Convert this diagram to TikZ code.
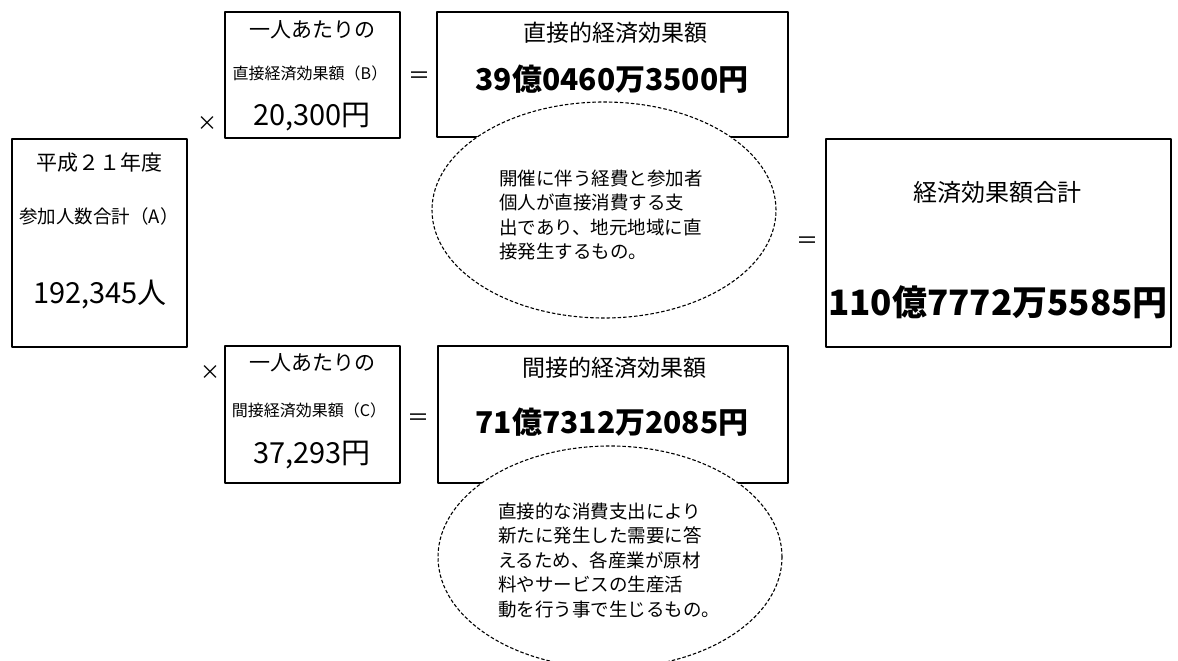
\documentclass[tikz,border=0pt]{standalone}
\usepackage{fontspec}
\setmainfont{Noto Sans CJK JP}
\usetikzlibrary{shapes.geometric}
\begin{document}
\begin{tikzpicture}[x=1pt, y=-1pt, line join=round,
	box/.style={draw, line width=2pt, inner sep=0pt},
	bubble/.style={draw, fill=white, ellipse, dash pattern=on 3.5pt off 2pt, line width=1.1pt, inner sep=0pt, minimum width=344, minimum height=216},
	fs/.style={font=\fontsize{#1}{#1}\selectfont, inner sep=0pt},
	bfs/.style={font=\fontsize{#1}{#1}\selectfont\bfseries, inner sep=0pt},
	note/.style={font=\fontsize{18.5}{24.5}\selectfont, align=left, inner sep=0pt}]
	\useasboundingbox (0,0) rectangle (1178,661);
	\clip (0,0) rectangle (1178,661);
	\node[box, minimum width=175, minimum height=208] (boxA) at (99.5,243) {};
	\node[box, minimum width=175, minimum height=126] (boxB) at (312.5,75) {};
	\node[box, minimum width=175, minimum height=137] (boxC) at (312.5,414.5) {};
	\node[box, minimum width=351, minimum height=125] (boxD) at (612.5,74.5) {};
	\node[box, minimum width=350, minimum height=137] (boxI) at (613,414.5) {};
	\node[box, minimum width=345, minimum height=208] (boxT) at (998.5,243) {};
	\node[fs=21] (yearA) at (99,163) {平成２１年度};
	\node[fs=18.5] (labelA) at (99,216) {参加人数合計（A）};
	\node[fs=29] (valA) at (100,295) {192,345人};
	\node[fs=21] (headB) at (312,30) {一人あたりの};
	\node[fs=16] (labelB) at (310,73) {直接経済効果額（B）};
	\node[fs=29] (valB) at (312,117) {20,300円};
	\node[fs=21] (headC) at (312,363) {一人あたりの};
	\node[fs=16] (labelC) at (309,410) {間接経済効果額（C）};
	\node[fs=29] (valC) at (312,455) {37,293円};
	\node[fs=23] (labelD) at (615,33) {直接的経済効果額};
	\node[bfs=30] (valD) at (612,79) {39億0460万3500円};
	\node[fs=23] (labelI) at (614,368) {間接的経済効果額};
	\node[bfs=30] (valI) at (612,422) {71億7312万2085円};
	\node[fs=24] (labelT) at (997,192) {経済効果額合計};
	\node[bfs=35] (valT) at (998,302) {110億7772万5585円};
	\node[fs=20] (timesB) at (207,124) {×};
	\node[fs=20] (timesC) at (210,373) {×};
	\node[fs=22] (eqD) at (419,78) {＝};
	\node[fs=22] (eqI) at (418,420) {＝};
	\node[fs=22] (eqT) at (807,243) {＝};
	\node[bubble] (noteD) at (604,210) {};
	\node[note] (noteDtxt) at (601,215) {開催に伴う経費と参加者\\個人が直接消費する支\\出であり、地元地域に直\\接発生するもの。};
	\node[bubble, minimum height=222] (noteI) at (610,557) {};
	\node[note] (noteItxt) at (609,560) {直接的な消費支出により\\新たに発生した需要に答\\えるため、各産業が原材\\料やサービスの生産活\\動を行う事で生じるもの。};
\end{tikzpicture}
\end{document}
